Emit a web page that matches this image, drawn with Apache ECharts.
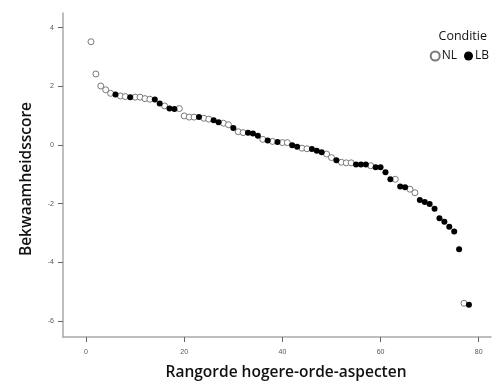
<!DOCTYPE html>
<html>
<head>
<meta charset="utf-8">
<script src="https://cdn.jsdelivr.net/npm/echarts@6/dist/echarts.min.js"></script>
<style>html,body{margin:0;padding:0;background:#fff}#c{width:495px;height:381px}</style>
</head>
<body>
<div id="c"></div>
<script>
const xTicks = [0, 20, 40, 60, 80];
const yTicks = [-6, -4, -2, 0, 2, 4];
const nlRanks  = [1, 2, 3, 4, 5, 7, 8, 10, 11, 12, 13, 16, 19, 20, 21, 22, 24, 25, 28, 29, 31, 32, 36, 38, 40, 41, 44, 45, 49, 50, 52, 53, 54, 58, 63, 66, 67, 77];
const nlScores = [3.52, 2.42, 2.01, 1.88, 1.76, 1.67, 1.65, 1.63, 1.63, 1.58, 1.56, 1.33, 1.24, 0.99, 0.95, 0.95, 0.91, 0.88, 0.74, 0.69, 0.45, 0.42, 0.19, 0.12, 0.08, 0.08, -0.11, -0.13, -0.31, -0.43, -0.59, -0.61, -0.61, -0.71, -1.17, -1.51, -1.63, -5.40];
const lbRanks  = [6, 9, 14, 15, 17, 18, 23, 26, 27, 30, 33, 34, 35, 37, 39, 42, 43, 46, 47, 48, 51, 55, 56, 57, 59, 60, 61, 62, 64, 65, 68, 69, 70, 71, 72, 73, 74, 75, 76, 78];
const lbScores = [1.72, 1.63, 1.55, 1.41, 1.24, 1.23, 0.95, 0.84, 0.77, 0.58, 0.42, 0.39, 0.31, 0.15, 0.10, -0.01, -0.06, -0.14, -0.20, -0.25, -0.52, -0.67, -0.67, -0.67, -0.76, -0.76, -0.93, -1.17, -1.42, -1.44, -1.88, -1.95, -2.01, -2.18, -2.50, -2.62, -2.79, -2.95, -3.56, -5.45];

const nlData = nlRanks.map((r, i) => [r, nlScores[i]]);
const lbData = lbRanks.map((r, i) => [r, lbScores[i]]);

// axis extents of the data grid
const X_MIN = -4.7, X_MAX = 82.5, Y_MIN = -6.55, Y_MAX = 4.5;
const G = { left: 63, right: 4, top: 13, bottom: 44 };
const W = 495 - G.left - G.right, H = 381 - G.top - G.bottom;
const xT0 = xTicks[0], xT1 = xTicks[xTicks.length - 1];
const yT0 = yTicks[0], yT1 = yTicks[yTicks.length - 1];
// second grid spanning exactly the tick range, for tick marks and labels
const G2 = {
  left: G.left + (xT0 - X_MIN) / (X_MAX - X_MIN) * W,
  right: G.right + (X_MAX - xT1) / (X_MAX - X_MIN) * W,
  top: G.top + (Y_MAX - yT1) / (Y_MAX - Y_MIN) * H,
  bottom: G.bottom + (yT0 - Y_MIN) / (Y_MAX - Y_MIN) * H
};

const axisGray = '#a8a8a8';
const tickStyle = { show: true, length: 5, lineStyle: { color: '#666', width: 1 } };
const labelStyle = { color: '#555', fontSize: 7, fontFamily: 'Liberation Sans' };
const titleFont = { fontFamily: 'Open Sans', fontWeight: 600, fontSize: 15.5, color: '#111' };

const chart = echarts.init(document.getElementById('c'), null, { renderer: 'canvas' });
chart.setOption({
  animation: false,
  backgroundColor: '#fff',
  title: {
    text: 'Conditie',
    right: 3, top: 25,
    textStyle: { fontFamily: 'Open Sans', fontSize: 12.5, fontWeight: 400, color: '#111' }
  },
  legend: {
    right: 1, top: 45,
    itemWidth: 9, itemHeight: 9, itemGap: 7,
    textStyle: { fontFamily: 'Open Sans', fontSize: 12, color: '#111', padding: [0, 0, 0, -3] },
    data: ['NL', 'LB']
  },
  grid: [
    Object.assign({ outerBoundsMode: 'none', containLabel: false }, G),
    Object.assign({ outerBoundsMode: 'none', containLabel: false }, G2)
  ],
  xAxis: [
    {
      type: 'value', gridIndex: 0,
      min: X_MIN, max: X_MAX,
      splitLine: { show: false },
      axisLine: { show: true, onZero: false, lineStyle: { color: axisGray, width: 1.5 } },
      axisTick: { show: false },
      axisLabel: { show: false },
      name: 'Rangorde hogere-orde-aspecten',
      nameLocation: 'middle',
      nameGap: 28,
      nameTextStyle: Object.assign({ padding: [0, 0, 0, 18] }, titleFont)
    },
    {
      type: 'value', gridIndex: 1,
      min: xT0, max: xT1, interval: 20,
      offset: G2.bottom - G.bottom,
      splitLine: { show: false },
      axisLine: { show: false, onZero: false },
      axisTick: tickStyle,
      axisLabel: Object.assign({ margin: 12 }, labelStyle)
    }
  ],
  yAxis: [
    {
      type: 'value', gridIndex: 0,
      min: Y_MIN, max: Y_MAX,
      splitLine: { show: false },
      axisLine: { show: true, onZero: false, lineStyle: { color: axisGray, width: 1.5 } },
      axisTick: { show: false },
      axisLabel: { show: false },
      name: 'Bekwaamheidsscore',
      nameLocation: 'middle',
      nameGap: 28,
      nameTextStyle: Object.assign({ padding: [0, 0, 0, -8] }, titleFont)
    },
    {
      type: 'value', gridIndex: 1,
      min: yT0, max: yT1, interval: 2,
      offset: G2.left - G.left,
      splitLine: { show: false },
      axisLine: { show: false, onZero: false },
      axisTick: tickStyle,
      axisLabel: Object.assign({ margin: 9 }, labelStyle)
    }
  ],
  series: [
    {
      name: 'NL', type: 'scatter', symbol: 'circle', symbolSize: 6,
      xAxisIndex: 0, yAxisIndex: 0,
      itemStyle: { color: '#fff', borderColor: '#7a7a7a', borderWidth: 1, opacity: 1 },
      data: nlData
    },
    {
      name: 'LB', type: 'scatter', symbol: 'circle', symbolSize: 6,
      xAxisIndex: 0, yAxisIndex: 0,
      itemStyle: { color: '#000', opacity: 1 },
      data: lbData
    }
  ]
});
</script>
</body>
</html>
